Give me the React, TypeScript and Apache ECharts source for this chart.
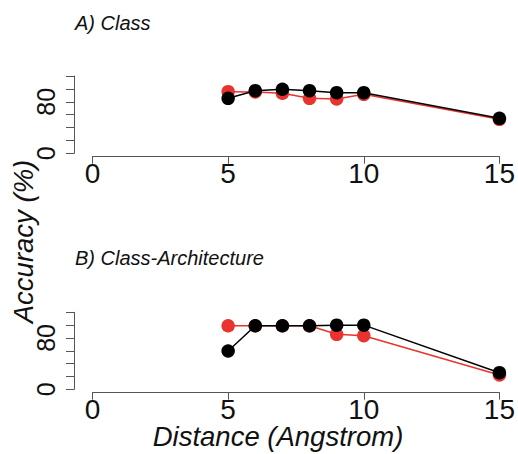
import React, { useEffect, useRef } from 'react';
import * as echarts from 'echarts';

const distances = [5, 6, 7, 8, 9, 10, 15];
const classRed = [95.6, 95.2, 93.2, 85.4, 84.3, 91.6, 52.8];
const classBlack = [85.4, 97.2, 99.4, 97.2, 94.1, 94.1, 54.3];
const archRed = [99, 99, 99, 99, 85.7, 83.5, 22.3];
const archBlack = [59.7, 99, 99, 99, 100, 100, 25.9];
const yLabelValues = [0, 80];
const panelTitles = ['A) Class', 'B) Class-Architecture'];
const xTitle = 'Distance (Angstrom)';
const yTitle = 'Accuracy (%)';

const FONT = '"Liberation Sans", Arial, Helvetica, sans-serif';
const RED = '#e8332f';
const BLACK = '#000000';
const AXIS = '#555555';

export default function App() {
  const ref = useRef<HTMLDivElement>(null);
  useEffect(() => {
    if (!ref.current) return;
    const chart = echarts.init(ref.current, null, { renderer: 'svg' });
    const grids = [
      { left: 92.5, width: 410.2, top: 76, height: 77.3 },
      { left: 92.5, width: 410.2, top: 312.3, height: 77 },
    ];
    const xAxes = grids.map((_, i) => ({
      type: 'value',
      gridIndex: i,
      min: 0,
      max: 15,
      interval: 5,
      offset: 3.4,
      axisLine: { show: true, onZero: false, lineStyle: { color: AXIS, width: 1 } },
      axisTick: { show: true, length: 7, lineStyle: { color: AXIS, width: 1 } },
      axisLabel: { fontSize: 28, lineHeight: 20, color: '#111', margin: 7, fontFamily: FONT },
      splitLine: { show: false },
    }));
    const yAxes = grids.map((_, i) => ({
      type: 'value',
      gridIndex: i,
      min: 0,
      max: 120,
      interval: 20,
      offset: 18.5,
      axisLine: { show: true, onZero: false, lineStyle: { color: AXIS, width: 1 } },
      axisTick: { show: true, length: 8, lineStyle: { color: AXIS, width: 1 } },
      axisLabel: {
        fontSize: 25,
        color: '#111',
        fontFamily: FONT,
        rotate: 90,
        align: 'center',
        verticalAlign: 'middle',
        margin: 28,
        formatter: (v: number) => (yLabelValues.includes(v) ? String(v) : ''),
      },
      splitLine: { show: false },
    }));
    const mk = (vals: number[], color: string, idx: number, z: number) => ({
      type: 'line',
      xAxisIndex: idx,
      yAxisIndex: idx,
      data: distances.map((d, i) => [d, vals[i]]),
      symbol: 'circle',
      symbolSize: 13.5,
      showSymbol: true,
      lineStyle: { color, width: 1.5 },
      itemStyle: { color },
      z,
    });
    chart.setOption({
      animation: false,
      backgroundColor: '#ffffff',
      grid: grids,
      xAxis: xAxes,
      yAxis: yAxes,
      series: [
        mk(classRed, RED, 0, 2),
        mk(classBlack, BLACK, 0, 3),
        mk(archRed, RED, 1, 2),
        mk(archBlack, BLACK, 1, 3),
      ],
      graphic: [
        {
          type: 'text',
          x: 75,
          y: 23,
          style: { text: panelTitles[0], font: `italic 20px ${FONT}`, fill: '#111', textAlign: 'left', textVerticalAlign: 'middle' },
        },
        {
          type: 'text',
          x: 75,
          y: 258,
          style: { text: panelTitles[1], font: `italic 20px ${FONT}`, fill: '#111', textAlign: 'left', textVerticalAlign: 'middle' },
        },
        {
          type: 'text',
          x: 278,
          y: 436,
          style: { text: xTitle, font: `italic 27.5px ${FONT}`, lineHeight: 22, fill: '#111', textAlign: 'center', textVerticalAlign: 'middle' },
        },
        {
          type: 'text',
          x: 23.5,
          y: 241.5,
          rotation: Math.PI / 2,
          style: { text: yTitle, font: `italic 27.5px ${FONT}`, fill: '#111', textAlign: 'center', textVerticalAlign: 'middle' },
        },
      ],
    });
    return () => chart.dispose();
  }, []);
  return <div ref={ref} style={{ position: 'fixed', left: 0, top: 0, width: 518, height: 454 }} />;
}
